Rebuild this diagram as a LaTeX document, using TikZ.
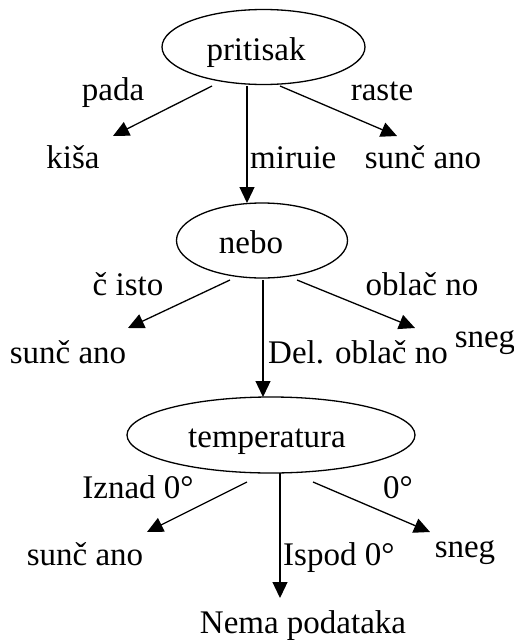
\documentclass[tikz,border=0pt]{standalone}
\usepackage{fontspec}
\setmainfont{Liberation Serif}
\usetikzlibrary{arrows.meta,shapes.geometric}
\tikzset{
  ell/.style={draw, ellipse, line width=1.3pt, inner sep=0pt},
  txt/.style={anchor=base, inner sep=0pt, font=\fontsize{33}{40}\selectfont},
  lbl/.style={txt},
  arr/.style={line width=1.3pt, -{Triangle[length=16pt,width=15pt]}}
}
\begin{document}
\begin{tikzpicture}[x=1pt,y=-1pt]
\useasboundingbox (0,0) rectangle (514,640);
% level 1
\node[ell, minimum width=203pt, minimum height=75pt] (pritisak) at (263.5,47) {};
\node[txt] (pritisakT) at (256,60) {pritisak};
\coordinate (e1s) at (212,86); \coordinate (e1t) at (113,136);
\coordinate (e2s) at (247,86); \coordinate (e2t) at (247,203);
\coordinate (e3s) at (280,86); \coordinate (e3t) at (397,136);
\draw[arr] (e1s) -- (e1t);
\draw[arr] (e2s) -- (e2t);
\draw[arr] (e3s) -- (e3t);
\node[lbl] (l1) at (113,100) {pada};
\node[lbl] (l3) at (382,100) {raste};
\node[lbl, anchor=base west] (l2) at (250,168) {miruie};
\node[txt] (kisa) at (73,168) {kiša};
\node[txt] (sunc1) at (423,168) {sunč ano};
% level 2
\node[ell, minimum width=171pt, minimum height=75pt] (nebo) at (262,240.5) {};
\node[txt] (neboT) at (251,253) {nebo};
\coordinate (e4s) at (230,280); \coordinate (e4t) at (128,328);
\coordinate (e5s) at (263,280); \coordinate (e5t) at (263,397);
\coordinate (e6s) at (297,280); \coordinate (e6t) at (415,328);
\draw[arr] (e4s) -- (e4t);
\draw[arr] (e5s) -- (e5t);
\draw[arr] (e6s) -- (e6t);
\node[lbl] (l4) at (128,295) {č isto};
\node[lbl] (l6) at (422,295) {oblač no};
\node[lbl, anchor=base west] (l5) at (268,363) {Del. oblač no};
\node[txt] (sunc2) at (68,363) {sunč ano};
\node[txt] (sneg1) at (485,347) {sneg};
% level 3
\node[ell, minimum width=288pt, minimum height=76pt] (temp) at (271,435) {};
\node[txt] (tempT) at (267,447) {temperatura};
\coordinate (e7s) at (247,482); \coordinate (e7t) at (147,532);
\coordinate (e8s) at (280,473); \coordinate (e8t) at (280,598);
\coordinate (e9s) at (313,482); \coordinate (e9t) at (430,532);
\draw[arr] (e7s) -- (e7t);
\draw[arr] (e8s) -- (e8t);
\draw[arr] (e9s) -- (e9t);
\node[lbl] (l7) at (138,498) {Iznad 0°};
\node[lbl] (l9) at (398,498) {0°};
\node[lbl, anchor=base west] (l8) at (283,565) {Ispod 0°};
\node[txt] (sunc3) at (85,565) {sunč ano};
\node[txt] (sneg2) at (465,557) {sneg};
\node[txt] (nema) at (303,633) {Nema podataka};
\end{tikzpicture}
\end{document}
